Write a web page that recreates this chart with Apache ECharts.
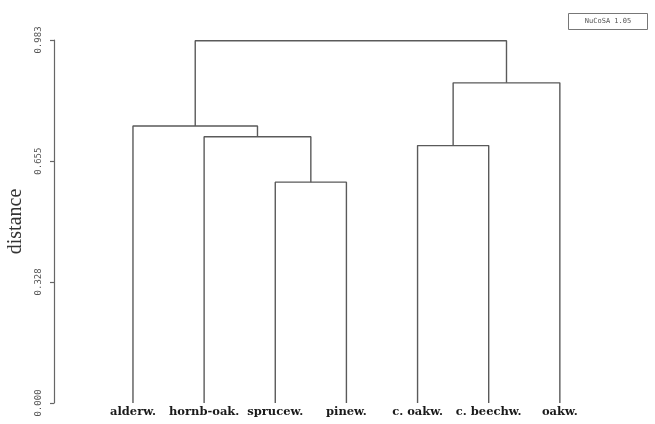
<!DOCTYPE html>
<html>
<head>
<meta charset="utf-8">
<script src="https://cdn.jsdelivr.net/npm/echarts@6/dist/echarts.min.js"></script>
<style>html,body{margin:0;padding:0;background:#fff}#c{width:655px;height:424px}</style>
</head>
<body>
<div id="c"></div>
<script>
// Leaves in display order
var leaves = ['alderw.', 'hornb-oak.', 'sprucew.', 'pinew.', 'c. oakw.', 'c. beechw.', 'oakw.'];
// Merges: children (negative = leaf index+1, positive = earlier merge number), height
var mergeLeft   = [-3, -5, -2, -1, 2, 4];
var mergeRight  = [-4, -6, 1, 3, -7, 5];
var mergeHeight = [0.598, 0.697, 0.721, 0.750, 0.867, 0.981];
// Axis ticks
var yTicks = [0, 0.328, 0.655, 0.983];
var yMax = 0.983;
var axisName = 'distance';
var stamp = 'NuCoSA 1.05';

var nodeX = [], nodeH = [];
function pos(ref) {
  if (ref < 0) return [-ref - 1, 0];
  return [nodeX[ref - 1], nodeH[ref - 1]];
}
var series = [];
for (var i = 0; i < mergeHeight.length; i++) {
  var a = pos(mergeLeft[i]), b = pos(mergeRight[i]), h = mergeHeight[i];
  nodeX.push((a[0] + b[0]) / 2); nodeH.push(h);
  series.push({
    type: 'line', showSymbol: false, silent: true, animation: false,
    lineStyle: { color: '#5a5a5a', width: 1.4 },
    data: [[a[0], a[1]], [a[0], h], [b[0], h], [b[0], b[1]]]
  });
}

var chart = echarts.init(document.getElementById('c'));
chart.setOption({
  backgroundColor: '#fff',
  animation: false,
  grid: { left: 54, right: 24, top: 40, bottom: 21, containLabel: false, outerBoundsMode: 'none' },
  xAxis: {
    type: 'value', min: -1.11, max: 7,
    axisLine: { show: false, onZero: false }, axisTick: { show: false }, splitLine: { show: false },
    axisLabel: {
      customValues: leaves.map(function (_, i) { return i; }),
      formatter: function (v) { return leaves[Math.round(v)]; },
      fontFamily: 'DejaVu Serif', fontWeight: 'bold', fontSize: 11.5, color: '#1a1a1a', margin: 3
    }
  },
  yAxis: {
    type: 'value', min: 0, max: yMax,
    name: axisName, nameLocation: 'middle', nameGap: 25, nameRotate: 90,
    nameTextStyle: { fontFamily: 'Liberation Serif', fontSize: 20, color: '#333' },
    axisLine: { show: true, onZero: false, lineStyle: { color: '#666', width: 1.2 } },
    axisTick: { show: true, length: 4, customValues: yTicks, lineStyle: { color: '#666', width: 1.2 } },
    splitLine: { show: false },
    axisLabel: {
      customValues: yTicks,
      rotate: 90, margin: 11,
      formatter: function (v) { return v.toFixed(3); },
      fontFamily: 'DejaVu Sans Mono', fontSize: 9, color: '#555'
    }
  },
  graphic: [{
    type: 'group', left: 568, top: 13,
    children: [
      { type: 'rect', shape: { x: 0, y: 0, width: 79, height: 16 }, style: { fill: '#fff', stroke: '#777', lineWidth: 1 } },
      { type: 'text', x: 39.5, y: 8, style: { text: stamp, fontFamily: 'DejaVu Sans Mono', fontSize: 7, fill: '#555', align: 'center', verticalAlign: 'middle' } }
    ]
  }],
  series: series
});
</script>
</body>
</html>
